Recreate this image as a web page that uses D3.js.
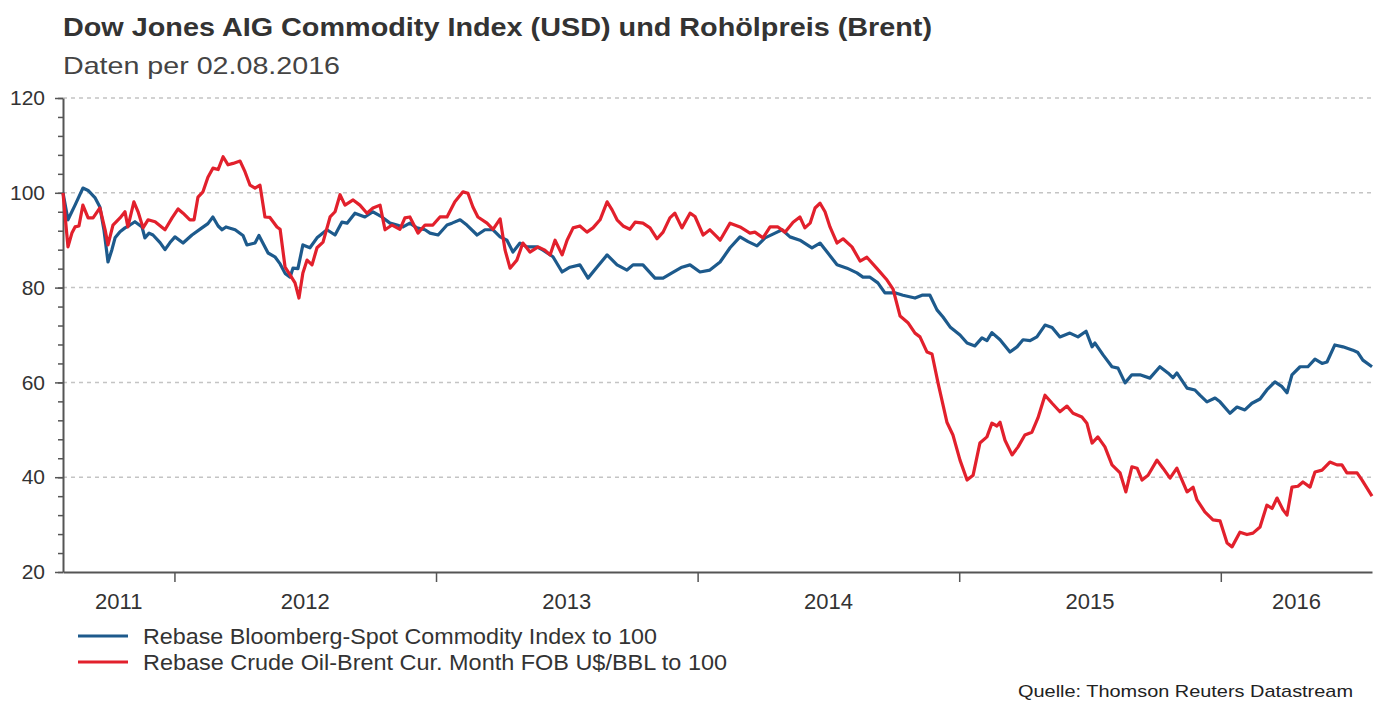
<!DOCTYPE html>
<html>
<head>
<meta charset="utf-8">
<script src="https://cdn.jsdelivr.net/npm/d3@7/dist/d3.min.js"></script>
<style>
  body { margin: 0; background: #fff; }
  text { font-family: "Liberation Sans", Arial, sans-serif; }
</style>
</head>
<body>
<div id="chart"></div>
<script>
// dates as decimal years, values rebased to 100 at start
var blueTime = [2011.574,2011.593,2011.620,2011.650,2011.670,2011.696,2011.715,2011.731,2011.746,2011.761,2011.773,2011.792,2011.811,2011.830,2011.849,2011.876,2011.887,2011.903,2011.918,2011.945,2011.964,2011.983,2012.002,2012.033,2012.067,2012.105,2012.128,2012.147,2012.167,2012.182,2012.197,2012.232,2012.262,2012.277,2012.308,2012.323,2012.342,2012.358,2012.384,2012.404,2012.423,2012.442,2012.453,2012.472,2012.491,2012.518,2012.545,2012.583,2012.614,2012.640,2012.660,2012.690,2012.728,2012.759,2012.793,2012.824,2012.851,2012.874,2012.900,2012.927,2012.958,2012.977,2013.008,2013.042,2013.061,2013.092,2013.118,2013.157,2013.187,2013.218,2013.245,2013.271,2013.294,2013.321,2013.348,2013.386,2013.409,2013.447,2013.482,2013.512,2013.550,2013.581,2013.615,2013.654,2013.692,2013.730,2013.753,2013.791,2013.837,2013.868,2013.902,2013.940,2013.971,2014.009,2014.047,2014.086,2014.124,2014.162,2014.193,2014.227,2014.258,2014.296,2014.323,2014.353,2014.391,2014.437,2014.468,2014.498,2014.533,2014.571,2014.609,2014.632,2014.659,2014.689,2014.716,2014.754,2014.785,2014.831,2014.858,2014.888,2014.915,2014.938,2014.965,2015.003,2015.030,2015.060,2015.087,2015.106,2015.125,2015.156,2015.194,2015.221,2015.244,2015.271,2015.297,2015.328,2015.355,2015.385,2015.423,2015.454,2015.485,2015.508,2015.519,2015.550,2015.584,2015.607,2015.634,2015.660,2015.691,2015.729,2015.767,2015.798,2015.817,2015.832,2015.871,2015.901,2015.920,2015.947,2015.978,2015.997,2016.035,2016.062,2016.092,2016.119,2016.150,2016.176,2016.207,2016.234,2016.253,2016.272,2016.303,2016.333,2016.360,2016.387,2016.406,2016.436,2016.467,2016.505,2016.524,2016.543,2016.578];
var blueValues = [100,94.3,97.4,101,100.5,99,97,92,85.4,88,90.5,91.8,92.6,93.2,93.9,92.8,90.5,91.5,91.1,89.5,88,89.5,90.7,89.4,91.1,92.6,93.5,94.9,93,92.2,92.8,92.2,91,89,89.4,91,89,87.3,86.5,85,83,82.2,84.1,84,89,88.4,90.5,92.2,91.1,93.8,93.6,95.7,94.9,96,94.9,93.6,93.2,92.8,93.6,92.6,92.2,91.5,91.1,93.2,93.6,94.3,93.2,91.1,92.2,92.2,90.7,90,87.5,89.4,88.6,88.6,87.9,86.5,83.3,84.3,84.8,82,84.3,86.9,84.8,83.7,84.8,84.8,82,82,83.1,84.3,84.8,83.3,83.7,85.4,88.4,90.7,89.7,88.8,90.5,91.5,92.2,90.7,90,88.4,89.4,87.3,84.8,84.1,83.1,82.2,82.2,81,78.9,78.9,78.4,77.8,78.4,78.4,75.3,73.8,71.7,70,68.3,67.7,69.4,68.8,70.5,69,66.4,67.5,69,68.8,69.6,72.1,71.6,69.6,70.4,69.6,70.8,67.5,68.3,65.8,63.3,63,59.9,61.6,61.6,60.9,63.3,62,61,62,58.8,58.4,57.3,55.9,56.7,55.9,53.5,54.8,54.2,55.6,56.5,58.4,60.1,59.1,57.8,61.6,63.3,63.3,64.9,64,64.3,67.9,67.5,66.8,66.3,64.7,63.3];

var redTime = [2011.574,2011.593,2011.608,2011.620,2011.635,2011.650,2011.670,2011.689,2011.715,2011.735,2011.746,2011.765,2011.792,2011.811,2011.822,2011.845,2011.861,2011.880,2011.899,2011.926,2011.964,2011.991,2012.014,2012.033,2012.059,2012.075,2012.090,2012.109,2012.128,2012.147,2012.167,2012.186,2012.205,2012.224,2012.251,2012.270,2012.289,2012.308,2012.327,2012.346,2012.365,2012.392,2012.404,2012.423,2012.442,2012.461,2012.476,2012.491,2012.507,2012.526,2012.545,2012.568,2012.595,2012.614,2012.633,2012.652,2012.683,2012.709,2012.736,2012.759,2012.786,2012.805,2012.832,2012.862,2012.881,2012.900,2012.931,2012.958,2012.988,2013.015,2013.042,2013.072,2013.103,2013.122,2013.141,2013.160,2013.195,2013.218,2013.245,2013.264,2013.283,2013.309,2013.332,2013.359,2013.390,2013.416,2013.436,2013.455,2013.482,2013.501,2013.524,2013.550,2013.577,2013.600,2013.627,2013.654,2013.673,2013.692,2013.715,2013.741,2013.761,2013.791,2013.818,2013.845,2013.868,2013.894,2013.913,2013.940,2013.971,2013.990,2014.021,2014.047,2014.074,2014.086,2014.124,2014.162,2014.200,2014.219,2014.250,2014.277,2014.307,2014.334,2014.365,2014.391,2014.410,2014.430,2014.449,2014.468,2014.487,2014.506,2014.533,2014.556,2014.590,2014.621,2014.647,2014.686,2014.724,2014.747,2014.774,2014.804,2014.831,2014.850,2014.877,2014.896,2014.919,2014.953,2014.976,2015.003,2015.030,2015.053,2015.079,2015.106,2015.125,2015.144,2015.156,2015.175,2015.202,2015.225,2015.251,2015.278,2015.301,2015.328,2015.355,2015.385,2015.412,2015.435,2015.469,2015.488,2015.508,2015.530,2015.557,2015.584,2015.615,2015.637,2015.660,2015.680,2015.699,2015.722,2015.756,2015.779,2015.806,2015.832,2015.871,2015.894,2015.909,2015.939,2015.970,2015.997,2016.024,2016.043,2016.073,2016.100,2016.123,2016.150,2016.176,2016.196,2016.215,2016.238,2016.253,2016.272,2016.295,2016.314,2016.341,2016.360,2016.387,2016.417,2016.444,2016.463,2016.482,2016.521,2016.540,2016.578];
var redValues = [100,88.6,91.5,92.8,93,97.4,94.7,94.7,96.8,92.2,89,93.2,94.7,96,92.8,98.1,96,92.6,94.3,93.9,92.2,94.7,96.6,95.7,94.3,94.3,99.1,100.2,103.3,105.2,104.9,107.6,105.9,106.2,106.7,104.4,101.6,101,101.6,94.9,94.8,92.8,92.3,84.3,82.7,81,77.8,83.1,85.8,84.8,88.4,89.6,94.9,96,99.6,97.4,98.5,97.4,95.7,96.8,97.4,92.2,93.2,92.3,94.7,94.9,91.5,93.2,93.2,94.9,94.9,98.1,100.2,99.9,97,94.9,93.6,92.3,94.5,87.9,84.1,85.8,89.4,87.5,88.6,87.9,86.9,90,86.9,90,92.6,93,91.7,92.6,94.3,98.1,96.4,94.3,93,92.3,93.8,93.6,92.6,90.3,91.7,94.7,95.7,92.6,95.7,95,91.1,92.2,90.7,90,93.6,92.8,91.5,91.7,90.5,92.8,92.8,91.7,93.8,94.9,92.6,93.6,96.8,97.8,96,92.8,89.4,90.3,88.6,85.6,86.4,84,81.6,79.7,74,72.6,70.4,69.6,66.4,66,59.9,51.6,48.9,43.6,39.4,40.4,47.2,48.5,51.4,50.8,51.6,47.8,44.7,46.4,48.9,49.5,52.5,57.3,55.6,53.8,55,53.5,52.7,51.4,47.2,48.5,46.4,42.6,40.9,36.9,42.2,41.9,39.4,40.4,43.6,41.9,39.8,41.9,36.9,37.9,35.2,32.7,31,30.8,26.1,25.3,28.4,27.9,28.2,29.5,34.1,33.4,35.6,33.1,32,37.9,38.1,39,37.9,41.1,41.5,43.2,42.6,42.6,40.9,40.9,39.4,36];

var yearTicks = [2012, 2013, 2014, 2015, 2016];
var yearLabels = ["2011", "2012", "2013", "2014", "2015", "2016"];
var yMajor = [20, 40, 60, 80, 100, 120];
var gridValues = [40, 60, 80, 100, 120];
var seriesNames = ["Rebase Bloomberg-Spot Commodity Index to 100", "Rebase Crude Oil-Brent Cur. Month FOB U$/BBL to 100"];
var seriesColors = ["#1d5a8c", "#e2202c"];

var W = 1378, H = 706;
var margin = {top: 98, right: 6, bottom: 134, left: 63};
var width = W - margin.left - margin.right,
    height = H - margin.top - margin.bottom;

var svg = d3.select("#chart").append("svg")
  .attr("width", W)
  .attr("height", H);

// title + subtitle (the source image is a bit stretched sideways, so widths are pinned)
svg.append("text")
  .attr("x", 63).attr("y", 36)
  .attr("textLength", 869).attr("lengthAdjust", "spacingAndGlyphs")
  .style("font-size", "25px").style("font-weight", "bold").style("fill", "#333")
  .text("Dow Jones AIG Commodity Index (USD) und Rohölpreis (Brent)");
svg.append("text")
  .attr("x", 63).attr("y", 74)
  .attr("textLength", 277).attr("lengthAdjust", "spacingAndGlyphs")
  .style("font-size", "24px").style("fill", "#444")
  .text("Daten per 02.08.2016");

var g = svg.append("g")
  .attr("transform", "translate(" + margin.left + "," + margin.top + ")");

var domainX = [2011.574, 2016.578];
var x = d3.scaleLinear().domain(domainX).range([0, width]);
var y = d3.scaleLinear().domain([20, 120]).range([height, 0]);

// dashed grid
g.selectAll(".grid").data(gridValues).enter().append("line")
  .attr("x1", 0).attr("x2", width)
  .attr("y1", function (d) { return y(d); })
  .attr("y2", function (d) { return y(d); })
  .style("stroke", "#c4c4c4")
  .style("stroke-width", 1.5)
  .style("stroke-dasharray", "4,4");

// minor y ticks
var minorAxis = g.append("g")
  .call(d3.axisLeft(y).tickValues(d3.range(20, 121, 4)).tickSize(5).tickFormat(""));
minorAxis.select(".domain").remove();
minorAxis.selectAll("line").style("stroke", "#555").style("stroke-width", 1.5);

// major y axis
var yAxis = g.append("g")
  .call(d3.axisLeft(y).tickValues(yMajor).tickSize(8).tickSizeOuter(0).tickPadding(10));
yAxis.select(".domain").style("stroke", "#555").style("stroke-width", 2);
yAxis.selectAll("line").style("stroke", "#555").style("stroke-width", 1.5);
yAxis.selectAll("text")
  .style("font-size", "21px").style("fill", "#333")
  .style("font-family", "'Liberation Sans', Arial, sans-serif");

// x axis
var xAxis = g.append("g")
  .attr("transform", "translate(0," + height + ")")
  .call(d3.axisBottom(x).tickValues(yearTicks).tickSize(10).tickSizeOuter(0).tickFormat(""));
xAxis.select(".domain").style("stroke", "#555").style("stroke-width", 2);
xAxis.selectAll("line").style("stroke", "#555").style("stroke-width", 1.5);

// year labels centred in the visible part of each year
g.selectAll(".yl").data(yearLabels).enter().append("text")
  .attr("x", function (d) {
    var a = Math.max(+d, domainX[0]), b = Math.min(+d + 1, domainX[1]);
    return x((a + b) / 2);
  })
  .attr("y", height + 37)
  .attr("text-anchor", "middle")
  .style("font-size", "22px").style("fill", "#333")
  .text(function (d) { return d; });

// lines
var line = d3.line()
  .x(function (d) { return x(d[0]); })
  .y(function (d) { return y(d[1]); });

var series = [d3.zip(blueTime, blueValues), d3.zip(redTime, redValues)];
g.selectAll(".series").data(series).enter().append("path")
  .attr("d", line)
  .style("fill", "none")
  .style("stroke", function (d, i) { return seriesColors[i]; })
  .style("stroke-width", 3.2)
  .style("stroke-linejoin", "round");

// legend
var legendWidths = [514, 584];
var legend = svg.selectAll(".legend").data(seriesNames).enter().append("g")
  .attr("transform", function (d, i) { return "translate(78," + (636 + i * 26) + ")"; });
legend.append("line")
  .attr("x1", 0).attr("x2", 50)
  .style("stroke", function (d, i) { return seriesColors[i]; })
  .style("stroke-width", 3.2);
legend.append("text")
  .attr("x", 65).attr("y", 8)
  .attr("textLength", function (d, i) { return legendWidths[i]; })
  .attr("lengthAdjust", "spacingAndGlyphs")
  .style("font-size", "22px").style("fill", "#333")
  .text(function (d) { return d; });

// source
svg.append("text")
  .attr("x", 1353).attr("y", 697)
  .attr("text-anchor", "end")
  .attr("textLength", 335).attr("lengthAdjust", "spacingAndGlyphs")
  .style("font-size", "17px").style("fill", "#222")
  .text("Quelle: Thomson Reuters Datastream");
</script>
</body>
</html>
